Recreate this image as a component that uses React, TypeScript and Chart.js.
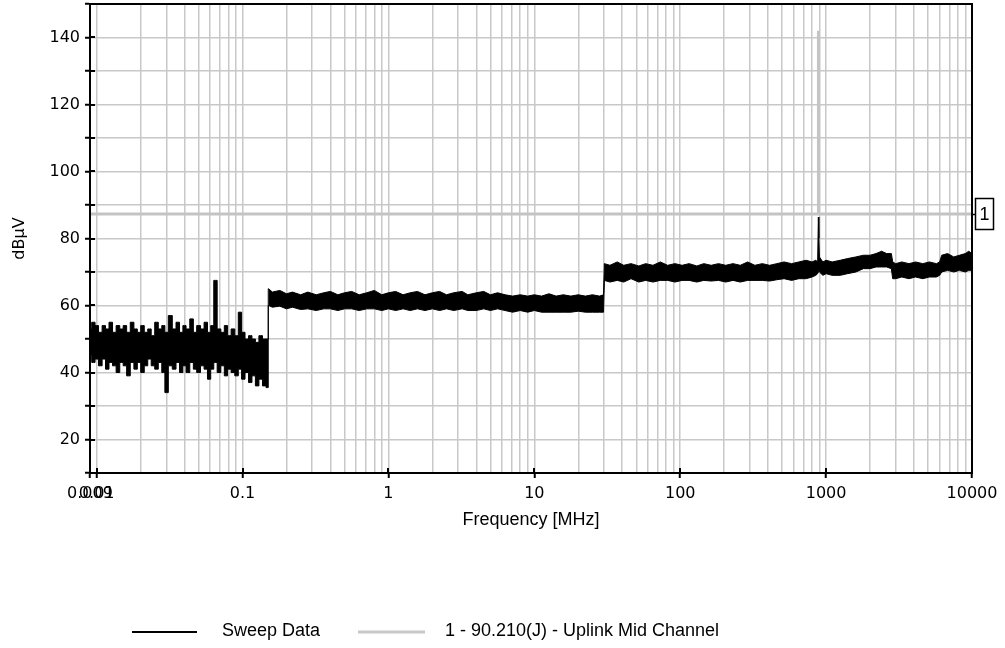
import React, { useEffect, useRef } from "react";
import { Chart, registerables } from "chart.js";

Chart.register(...registerables);

// ---- Sweep data (upper / lower envelope of the noisy trace) ----
const sweepFreq = [
  0.009, 0.0095, 0.01, 0.0106, 0.0112, 0.0118, 0.0125, 0.0132, 0.014, 0.0148,
  0.0156, 0.0165, 0.0175, 0.0185, 0.0195, 0.0206, 0.0218, 0.023, 0.0243, 0.0257,
  0.0272, 0.0287, 0.03, 0.032, 0.034, 0.036, 0.038, 0.04, 0.042, 0.045,
  0.047, 0.05, 0.053, 0.056, 0.059, 0.062, 0.065, 0.069, 0.073, 0.077,
  0.081, 0.086, 0.091, 0.096, 0.101, 0.107, 0.113, 0.119, 0.126, 0.133,
  0.141, 0.149,
  0.151, 0.16, 0.18, 0.2, 0.22, 0.25, 0.28, 0.32, 0.36, 0.4,
  0.45, 0.5, 0.56, 0.63, 0.71, 0.8, 0.9, 1.0, 1.12, 1.26,
  1.41, 1.58, 1.78, 2.0, 2.24, 2.5, 2.8, 3.2, 3.5, 4.0,
  4.5, 5.0, 5.6, 6.3, 7.1, 8.0, 9.0, 10, 11.2, 12.6,
  14.1, 15.8, 17.8, 20, 22.4, 25, 28, 29.8,
  30.2, 33, 37, 41, 46, 52, 58, 65, 73, 82,
  92, 103, 115, 130, 145, 163, 183, 205, 230, 258,
  290, 325, 365, 410, 460, 515, 580, 650, 730, 800,
  850, 875, 885, 892, 900, 950, 1000, 1100, 1250, 1400,
  1600, 1800, 2000, 2200, 2400, 2600, 2800, 2860, 3000, 3300,
  3700, 4100, 4600, 5100, 5700, 6000, 6200, 6800, 7500, 8200,
  9000, 9500, 10000,
];

const sweepHigh = [
  53, 55, 54, 52, 54, 53, 55, 52, 54, 53,
  54, 52, 55, 53, 52, 54, 52, 53, 51, 55,
  53, 54, 52, 57, 53, 55, 52, 54, 53, 56,
  52, 54, 53, 55, 52, 54, 67.5, 53, 52, 54,
  51, 53, 51, 58, 52, 50, 51, 50, 49, 51,
  50, 50,
  65, 64, 64.5, 63.5, 64, 63.2, 64, 63.2, 63.8, 64.2,
  63.2, 63.8, 64.2, 63.2, 63.8, 64.5, 63.2, 63.8, 64.2, 63.2,
  63.8, 64.2, 63.2, 63.8, 64.2, 63.2, 63.8, 64.2, 63.2, 63.8,
  64.2, 63.2, 63.8, 63.2, 62.8, 63.2, 62.8, 63.2, 62.8, 63.5,
  62.8, 63.2, 62.8, 63.2, 62.8, 63.2, 62.8, 63.2,
  72.5, 72, 73, 72, 72.5, 71.8, 72.5, 72, 73, 72,
  72.5, 72, 72.5, 71.8, 72.5, 72, 72.5, 72, 72.5, 72,
  73, 72, 72.5, 72, 72.5, 73, 72.5, 73, 73.5, 73,
  73.5, 73, 86.4, 80, 74.5, 73, 73.5, 73, 73.5, 74,
  74.5, 75, 75, 75.5, 76.2, 75.5, 75.5, 73, 72.5, 73,
  72.5, 73, 72.5, 73, 72.5, 73, 75, 75.5, 74.5, 75,
  75.5, 76.2, 75.5,
];

const sweepLow = [
  45, 43, 44, 42, 44, 41, 43, 42, 40, 43,
  42, 39, 43, 41, 43, 40, 42, 44, 42, 41,
  43, 40, 34, 42, 41, 43, 40, 42, 40, 43,
  41, 40, 42, 41, 38, 41, 43, 40, 42, 39,
  41, 40, 39, 41, 38, 40, 37, 39, 36, 38,
  36, 35.5,
  60, 59.5, 59.8, 59, 59.5, 58.8, 59, 58.5, 59, 59,
  58.5, 59, 59, 58.5, 59, 59, 58.5, 59, 58.5, 59,
  58.5, 59, 58.5, 59, 58.5, 59, 58.5, 59, 58.5, 58.5,
  59, 58.5, 59, 58.5, 58, 58.5, 58, 58.5, 58, 58,
  58, 58, 58, 58.3, 58, 58, 58, 58,
  67.5, 67, 67.5, 67, 68, 67, 67.5, 67, 67.5, 67.5,
  67, 67.5, 67.5, 67, 67.5, 67.3, 67.5, 67, 67.5, 67,
  67.5, 67.5, 67.5, 67.3, 67.7, 68, 67.5, 68, 68, 68.5,
  69, 69.5, 70, 70.5, 70, 69, 69.5, 69, 69, 69.5,
  70, 71, 71, 71.5, 71.5, 71.5, 71, 68, 68, 68.5,
  68, 68.5, 68, 68.5, 68.5, 69, 70, 70.5, 70, 70.5,
  70, 70.5, 70.5,
];

// index where the 0.15 MHz step happens (first point of the upper band)
const stepIndex = 52;

// ---- Limit line "1 - 90.210(J) - Uplink Mid Channel" ----
const limitFreq = [0.009, 883, 885, 887, 10000];
const limitLevel = [87.3, 87.3, 142, 87.3, 87.3];

// ---- Axis ticks ----
const xGridMantissas = [1, 2, 3, 4, 5, 6, 7, 8, 9];
const xGridDecades = [0.01, 0.1, 1, 10, 100, 1000];
const xLabelValues = [0.009, 0.01, 0.1, 1, 10, 100, 1000, 10000];
const xLabelTexts = ["0.009", "0.01", "0.1", "1", "10", "100", "1000", "10000"];
const yLabelValues = [20, 40, 60, 80, 100, 120, 140];

const legendLabels = ["Sweep Data", "1 - 90.210(J) - Uplink Mid Channel"];
const markerLabel = "1";

const TICK_FONT = { family: "'DejaVu Sans', sans-serif", size: 16 };
const TEXT_FONT = "18px 'Liberation Sans', Arial, sans-serif";

function xLabelIndex(v: number): number {
  for (let i = 0; i < xLabelValues.length; i++) {
    if (Math.abs(v - xLabelValues[i]) / xLabelValues[i] < 1e-6) return i;
  }
  return -1;
}

export default function App() {
  const canvasRef = useRef<HTMLCanvasElement | null>(null);

  useEffect(() => {
    document.body.style.margin = "0";
    const canvas = canvasRef.current;
    if (!canvas) return;

    const xGridValues: number[] = [0.009];
    xGridDecades.forEach((d) =>
      xGridMantissas.forEach((m) => xGridValues.push(Number((m * d).toPrecision(6))))
    );
    xGridValues.push(10000);

    const hiData = sweepFreq.map((f, i) => ({ x: f, y: sweepHigh[i] }));
    const loData = sweepFreq.map((f, i) => ({ x: f, y: sweepLow[i] }));
    const limData = limitFreq.map((f, i) => ({ x: f, y: limitLevel[i] }));

    const band = (data: any[], stepped: any, fill: any, order: number, label: string) => ({
      label,
      data,
      borderColor: "#000",
      backgroundColor: "#000",
      borderWidth: 1,
      pointRadius: 0,
      stepped,
      fill,
      order,
    });

    const framePlugin = {
      id: "frameAndExtras",
      afterDraw(chart: any) {
        const { ctx, chartArea } = chart;
        const yScale = chart.scales.y;
        const xScale = chart.scales.x;
        ctx.save();
        ctx.strokeStyle = "#000";
        ctx.lineWidth = 2;
        ctx.strokeRect(chartArea.left, chartArea.top, chartArea.right - chartArea.left, chartArea.bottom - chartArea.top);
        // inner halves of the axis tick marks
        ctx.beginPath();
        yScale.ticks.forEach((t: any) => {
          const py = Math.round(yScale.getPixelForValue(t.value));
          ctx.moveTo(chartArea.left, py);
          ctx.lineTo(chartArea.left + 5, py);
        });
        xLabelValues.forEach((v) => {
          const px = Math.round(xScale.getPixelForValue(v));
          ctx.moveTo(px, chartArea.bottom);
          ctx.lineTo(px, chartArea.bottom - 5);
        });
        ctx.stroke();
        // marker box on the right
        const my = Math.round(yScale.getPixelForValue(limitLevel[0]));
        ctx.lineWidth = 1.5;
        ctx.beginPath();
        ctx.moveTo(chartArea.right, my + 0.5);
        ctx.lineTo(chartArea.right + 4, my + 0.5);
        ctx.stroke();
        ctx.strokeRect(chartArea.right + 3.5, my - 15.5, 18, 31);
        ctx.fillStyle = "#000";
        ctx.font = TEXT_FONT;
        ctx.textAlign = "center";
        ctx.textBaseline = "middle";
        ctx.fillText(markerLabel, chartArea.right + 12.5, my + 1);
        // legend
        const ly = 632;
        ctx.lineWidth = 2;
        ctx.strokeStyle = "#000";
        ctx.beginPath();
        ctx.moveTo(132, ly);
        ctx.lineTo(197, ly);
        ctx.stroke();
        ctx.lineWidth = 3;
        ctx.strokeStyle = "#c8c8c8";
        ctx.beginPath();
        ctx.moveTo(358, ly);
        ctx.lineTo(425, ly);
        ctx.stroke();
        ctx.textAlign = "left";
        ctx.fillStyle = "#000";
        ctx.fillText(legendLabels[0], 222, ly - 1);
        ctx.fillText(legendLabels[1], 445, ly - 1);
        ctx.restore();
      },
    };

    const chart = new Chart(canvas, {
      type: "line",
      data: {
        datasets: [
          band(hiData.slice(0, stepIndex + 1), "middle", "+1", 1, legendLabels[0] + " a-high"),
          band(loData.slice(0, stepIndex + 1), "middle", false, 2, legendLabels[0] + " a-low"),
          band(hiData.slice(stepIndex), false, "+1", 1, legendLabels[0] + " b-high"),
          band(loData.slice(stepIndex), false, false, 2, legendLabels[0] + " b-low"),
          {
            label: legendLabels[1],
            data: limData,
            borderColor: "#c4c4c4",
            borderWidth: 3,
            pointRadius: 0,
            fill: false,
            order: 5,
          },
        ],
      },
      options: {
        animation: false,
        responsive: false,
        maintainAspectRatio: false,
        parsing: false,
        normalized: true,
        layout: { padding: { top: 4, right: 33, bottom: 105, left: 0 } },
        plugins: {
          legend: { display: false },
          tooltip: { enabled: false },
          title: { display: false },
        },
        scales: {
          x: {
            type: "logarithmic",
            min: 0.009,
            max: 10000,
            afterBuildTicks: (s: any) => {
              s.ticks = xGridValues.map((v) => ({ value: v }));
            },
            afterFit: (s: any) => {
              s.height = 70;
              s.paddingLeft = 0;
              s.paddingRight = 0;
            },
            ticks: {
              autoSkip: false,
              maxRotation: 0,
              minRotation: 0,
              padding: 6,
              color: "#000",
              font: TICK_FONT,
              callback: (v: any) => {
                const i = xLabelIndex(Number(v));
                return i >= 0 ? xLabelTexts[i] : "";
              },
            },
            grid: {
              color: "#c8c8c8",
              lineWidth: 1.5,
              tickLength: 5,
              tickWidth: 2,
              tickColor: (c: any) => (c.tick && xLabelIndex(c.tick.value) >= 0 ? "#000" : "rgba(0,0,0,0)"),
            },
            border: { color: "#000", width: 2 },
            title: {
              display: true,
              text: "Frequency [MHz]",
              color: "#000",
              font: { family: "'Liberation Sans', Arial, sans-serif", size: 18 },
              padding: { top: 0, bottom: 12 },
            },
          },
          y: {
            type: "linear",
            min: 10,
            max: 150,
            afterFit: (s: any) => {
              s.width = 90;
              s.paddingTop = 0;
              s.paddingBottom = 0;
            },
            ticks: {
              stepSize: 10,
              padding: 5,
              color: "#000",
              font: TICK_FONT,
              callback: (v: any) => (yLabelValues.indexOf(Number(v)) >= 0 ? String(v) : ""),
            },
            grid: {
              color: "#c8c8c8",
              lineWidth: 1.5,
              tickLength: 5,
              tickWidth: 2,
              tickColor: "#000",
            },
            border: { color: "#000", width: 2 },
            title: {
              display: true,
              text: "dBµV",
              color: "#000",
              font: { family: "'DejaVu Sans', sans-serif", size: 16 },
              padding: { top: 10, bottom: 0 },
            },
          },
        },
      },
      plugins: [framePlugin],
    } as any);

    return () => chart.destroy();
  }, []);

  return (
    <div style={{ width: 1005, height: 648, position: "relative", background: "#fff" }}>
      <canvas ref={canvasRef} width={1005} height={648} style={{ display: "block" }} />
    </div>
  );
}
